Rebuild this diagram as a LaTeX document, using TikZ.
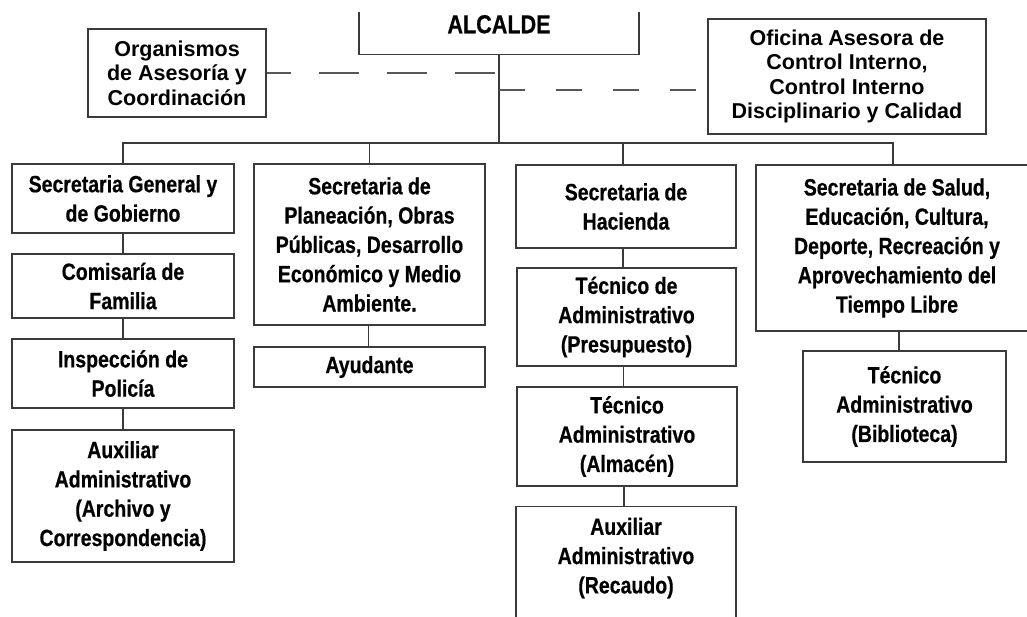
\documentclass[tikz,border=0pt]{standalone}
\usepackage{fontspec}
\setmainfont{Liberation Sans}
\newfontfamily\narrowf{Liberation Sans}[FakeStretch=0.83, BoldFeatures={FakeBold=0.5}]
\usetikzlibrary{calc}
\definecolor{linec}{HTML}{3A3A3A}
\tikzset{
  boxbase/.style={draw=linec, line width=1.4pt, rectangle, inner sep=0pt, align=center, text=black, fill=white},
  nbox/.style={boxbase, font=\narrowf\bfseries\fontsize{23.5}{29.3}\selectfont},
  wbox/.style={boxbase, font=\bfseries\fontsize{21.5}{24.6}\selectfont},
  conn/.style={draw=linec, line width=1.4pt},
  dconn/.style={draw=linec!85, line width=1.3pt},
  txtonly/.style={inner sep=0pt, align=center, text=black, font=\narrowf\bfseries\fontsize{23.5}{29.3}\selectfont}
}
\begin{document}
\begin{tikzpicture}[x=1pt,y=-1pt]
\useasboundingbox[fill=white] (0,0) rectangle (1027,616);
\begin{scope}
\clip (0,12) rectangle (1027,616);
% top level
\node[nbox, minimum width=280, minimum height=60, anchor=south, font=\narrowf\bfseries\fontsize{26}{30}\selectfont] (alcalde) at (499,55) {ALCALDE};
\node[wbox, minimum width=178, minimum height=88] (org) at (177,73) {Organismos\\de Asesoría y\\Coordinación};
\node[wbox, minimum width=278, minimum height=115] (ofi) at (847,76.5) {Oficina Asesora de\\Control Interno,\\Control Interno\\Disciplinario y Calidad};
% column 1
\node[nbox, minimum width=222, minimum height=69] (sg) at (123,198.5) {Secretaria General y\\de Gobierno};
\node[nbox, minimum width=222, minimum height=64] (cf) at (123,286) {Comisaría de\\Familia};
\node[nbox, minimum width=222, minimum height=69] (ip) at (123,373.5) {Inspección de\\Policía};
\node[nbox, minimum width=222, minimum height=132] (aa) at (123,496) {Auxiliar\\Administrativo\\(Archivo y\\Correspondencia)};
% column 2
\node[nbox, minimum width=231, minimum height=161] (sp) at (369.5,244.5) {Secretaria de\\Planeación, Obras\\Públicas, Desarrollo\\Económico y Medio\\Ambiente.};
\node[nbox, minimum width=231, minimum height=40] (ay) at (369.5,367) {Ayudante};
% column 3
\node[nbox, minimum width=220, minimum height=83] (sh) at (626,206.5) {Secretaria de\\Hacienda};
\node[nbox, minimum width=219, minimum height=98] (tp) at (626.5,317) {Técnico de\\Administrativo\\(Presupuesto)};
\node[nbox, minimum width=220, minimum height=99] (ta) at (627,436.5) {Técnico\\Administrativo\\(Almacén)};
\node[boxbase, minimum width=220, minimum height=130, anchor=north] (ar) at (626,506) {};
\node[txtonly] (artxt) at (626,558) {Auxiliar\\Administrativo\\(Recaudo)};
% column 4
\node[nbox, minimum width=282, minimum height=166] (ss) at (897,248) {Secretaria de Salud,\\Educación, Cultura,\\Deporte, Recreación y\\Aprovechamiento del\\Tiempo Libre};
\node[nbox, minimum width=203, minimum height=111] (tb) at (904.5,406.5) {Técnico\\Administrativo\\(Biblioteca)};
% connectors
\coordinate (bus) at (0,143);
\draw[conn] (alcalde.south) -- (alcalde.south |- bus);
\draw[conn] (sg.north) |- ([xshift=-4pt]ss.north |- bus) -- ([xshift=-4pt]ss.north);
\draw[conn] (sp.north) -- (sp.north |- bus);
\draw[conn] ([xshift=-3pt]sh.north) -- ([xshift=-3pt]sh.north |- bus);
\draw[conn] (sg.south) -- (cf.north);
\draw[conn] (cf.south) -- (ip.north);
\draw[conn] (ip.south) -- (aa.north);
\draw[conn] ([xshift=-1pt]sp.south) -- ([xshift=-1pt]ay.north);
\draw[conn] ([xshift=-3pt]sh.south) -- ([xshift=-3pt]sh.south |- tp.north);
\draw[conn] ([xshift=-3pt]tp.south) -- ([xshift=-3pt]tp.south |- ta.north);
\draw[conn] ([xshift=-3pt]ta.south) -- ([xshift=-3pt]ta.south |- ar.north);
\draw[conn] ([xshift=-5.5pt]tb.north) -- ([xshift=-5.5pt]tb.north |- ss.south);
% dashed advisory links
\coordinate (d1) at (org.east -| alcalde.south);
\coordinate (d2) at ($(alcalde.south)+(0,35)$);
\draw[dconn, dash pattern=on 40pt off 28pt, dash phase=16pt] (org.east) -- (d1);
\draw[dconn, dash pattern=on 26pt off 31pt] (d2) -- (d2 -| ofi.west);
\end{scope}
\end{tikzpicture}
\end{document}
